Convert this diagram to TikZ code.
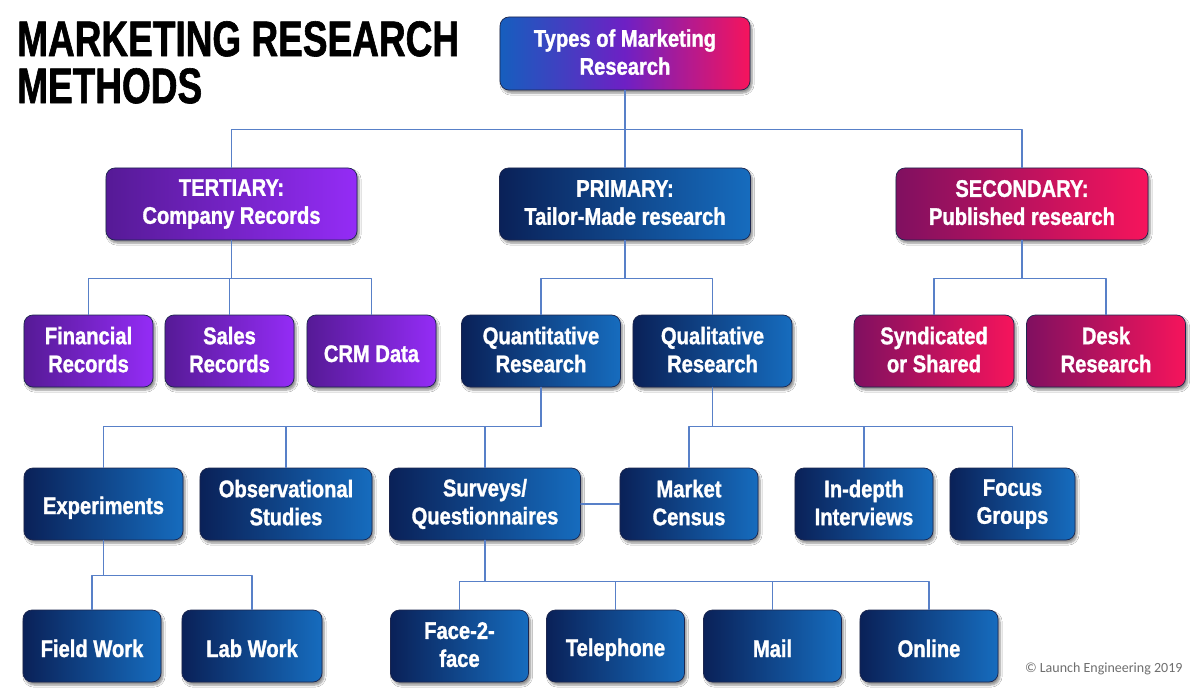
\documentclass[tikz,border=0pt]{standalone}
\usepackage{fontspec}
\setmainfont{Liberation Sans}
\newfontfamily\boxfont{Liberation Sans Bold}[FakeStretch=0.84, FakeBold=1.3]
\newfontfamily\titlefont{Liberation Sans Bold}[FakeStretch=0.74, FakeBold=1.2]
\newfontfamily\copyfont{Carlito}
\newcommand\boxstrut{\rule[-3pt]{0pt}{28pt}}
\usetikzlibrary{shadows.blur}
\definecolor{navyL}{RGB}{10,33,88}
\definecolor{navyR}{RGB}{22,108,190}
\definecolor{purpL}{RGB}{86,26,150}
\definecolor{purpR}{RGB}{148,44,246}
\definecolor{magL}{RGB}{128,16,96}
\definecolor{magR}{RGB}{246,20,92}
\definecolor{topL}{RGB}{22,94,190}
\definecolor{topM}{RGB}{110,32,196}
\definecolor{edge}{RGB}{28,38,78}
\definecolor{linkc}{RGB}{88,128,200}
\definecolor{copyc}{RGB}{110,110,110}

\begin{document}
\begin{tikzpicture}[x=1pt, y=-1pt, line join=round, line cap=round,
    box/.style={rounded corners=9pt, draw=edge, line width=0.7pt, minimum height=72pt,
      align=center, text=white, inner sep=2pt,
      font=\boxfont\fontsize{24}{28}\selectfont,
      execute at begin node=\boxstrut, execute at end node=\boxstrut,
      blur shadow={shadow xshift=2pt, shadow yshift=-3pt, shadow blur steps=6, shadow opacity=45}},
    navy/.style={box, left color=navyL, right color=navyR},
    purp/.style={box, left color=purpL, right color=purpR},
    mag/.style={box, left color=magL, right color=magR},
    link/.style={draw=linkc, line width=1.1pt}]
  \fill[white] (0,0) rectangle (1200,690);
  \useasboundingbox (0,0) rectangle (1200,690);

  % title and credit
  \node[anchor=north west, align=left, inner sep=0pt,
    font=\titlefont\fontsize{50}{47}\selectfont] (title) at (17,21) {MARKETING RESEARCH\\METHODS};
  \node[anchor=base east, font=\copyfont\fontsize{14}{16}\selectfont, text=copyc] (credit) at (1186,672) {© Launch Engineering 2019};

  % top levels
  \node[box, minimum width=250pt, minimum height=73pt, left color=topL, right color=magR, middle color=topM] (types) at (625,53.5) {Types of Marketing\\Research};
  \node[purp, minimum width=251pt] (tert) at (231.5,204) {TERTIARY:\\Company Records};
  \node[navy, minimum width=251pt] (prim) at (625,204) {PRIMARY:\\Tailor-Made research};
  \node[mag, minimum width=252pt] (sec) at (1022,204) {SECONDARY:\\Published research};

  % third row
  \foreach \n/\x/\t in {fin/88.5/Financial\\Records, sales/229.5/Sales\\Records, crm/371.5/CRM Data}
    \node[purp, minimum width=129pt] (\n) at (\x,351) {\t};
  \node[navy, minimum width=159pt] (quant) at (541,351) {Quantitative\\Research};
  \node[navy, minimum width=159pt] (qual) at (712.5,351) {Qualitative\\Research};
  \node[mag, minimum width=160pt] (synd) at (934,351) {Syndicated\\or Shared};
  \node[mag, minimum width=159pt] (desk) at (1106,351) {Desk\\Research};

  % fourth row
  \node[navy, minimum width=159pt] (exp) at (103.5,504) {Experiments};
  \node[navy, minimum width=172pt] (obs) at (286,504) {Observational\\Studies};
  \node[navy, minimum width=191pt] (surv) at (485,504) {Surveys/\\Questionnaires};
  \node[navy, minimum width=138pt] (market) at (689,504) {Market\\Census};
  \node[navy, minimum width=138pt] (indepth) at (864,504) {In-depth\\Interviews};
  \node[navy, minimum width=125pt] (focus) at (1012.5,504) {Focus\\Groups};

  % bottom row
  \node[navy, minimum width=138pt] (field) at (92,646) {Field Work};
  \node[navy, minimum width=140pt] (lab) at (252,646) {Lab Work};
  \foreach \n/\x/\t in {face/459.5/Face-2-\\face, tel/615.5/Telephone, mail/772.5/Mail, online/929/Online}
    \node[navy, minimum width=138pt] (\n) at (\x,646) {\t};

  % connectors
  \foreach \n in {tert,prim,sec} \draw[link] (types.south) -- ++(0,39) -| (\n.north);
  \foreach \n in {fin,sales,crm} \draw[link] (tert.south) -- ++(0,38) -| (\n.north);
  \foreach \n in {quant,qual} \draw[link] (prim.south) -- ++(0,38) -| (\n.north);
  \foreach \n in {synd,desk} \draw[link] (sec.south) -- ++(0,38) -| (\n.north);
  \foreach \n in {exp,obs,surv} \draw[link] (quant.south) -- ++(0,39) -| (\n.north);
  \foreach \n in {market,indepth,focus} \draw[link] (qual.south) -- ++(0,39) -| (\n.north);
  \draw[link] (surv.east) -- (market.west);
  \foreach \n in {field,lab} \draw[link] (exp.south) -- ++(0,35) -| (\n.north);
  \foreach \n in {face,tel,mail,online} \draw[link] (surv.south) -- ++(0,41) -| (\n.north);
\end{tikzpicture}
\end{document}
